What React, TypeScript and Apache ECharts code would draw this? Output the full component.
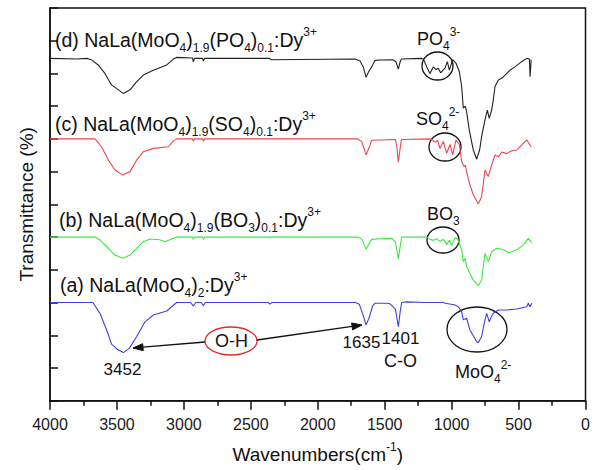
import React, { useEffect, useRef } from "react";
import * as echarts from "echarts";

const FONT = "'Liberation Sans', Arial, Helvetica, sans-serif";

// (a) NaLa(MoO4)2:Dy3+  (blue)
const waveA = [4000, 3680, 3627, 3577, 3539, 3520, 3502, 3452, 3408, 3352, 3290, 3228, 3128, 3091, 3054, 2950, 2930, 2910, 2870, 2855, 2840, 2370, 2357, 2340, 1720, 1690, 1660, 1639, 1615, 1590, 1572, 1480, 1460, 1420, 1398, 1385, 1373, 1336, 1200, 1062, 1049, 980, 950, 925, 913, 888, 863, 813, 801, 776, 751, 738, 719, 700, 689, 651, 589, 514, 439, 427, 414, 402];
const transA = [3.0, 3.0, 2.67, 2.16, 1.72, 1.66, 1.58, 1.47, 1.6, 1.96, 2.41, 2.62, 2.74, 2.87, 3.0, 3.0, 2.9, 3.0, 3.0, 2.9, 3.0, 3.0, 2.95, 3.0, 3.0, 2.95, 2.6, 2.31, 2.55, 2.9, 2.98, 2.98, 2.96, 2.8, 2.26, 2.7, 3.0, 3.02, 3.0, 3.0, 2.98, 2.93, 2.87, 2.72, 2.47, 2.52, 2.16, 1.8, 1.77, 1.96, 2.47, 2.67, 2.41, 2.6, 2.67, 2.77, 2.77, 2.8, 2.87, 2.98, 2.87, 2.98];

// (b) NaLa(MoO4)1.9(BO3)0.1:Dy3+  (green)
const waveB = [4000, 3664, 3627, 3577, 3515, 3457, 3402, 3352, 3303, 3253, 3180, 3141, 3091, 3054, 2935, 2930, 2920, 2860, 2855, 2845, 2360, 2357, 2350, 1700, 1670, 1639, 1610, 1597, 1535, 1448, 1420, 1398, 1385, 1373, 1186, 1162, 1137, 1112, 1087, 1062, 1037, 1017, 999, 975, 955, 925, 913, 900, 888, 863, 838, 801, 776, 751, 726, 701, 664, 614, 576, 551, 514, 464, 427, 402];
const transB = [5.0, 5.0, 4.91, 4.71, 4.45, 4.35, 4.45, 4.66, 4.86, 4.94, 4.92, 4.86, 4.94, 5.0, 5.0, 4.93, 5.0, 5.0, 4.93, 5.0, 5.0, 4.97, 5.0, 5.0, 4.93, 4.63, 4.85, 4.93, 4.95, 4.96, 4.85, 4.33, 4.7, 5.0, 5.0, 4.93, 4.9, 4.95, 4.87, 4.93, 4.77, 4.9, 4.74, 4.98, 4.95, 4.6, 4.25, 4.35, 4.1, 3.89, 3.69, 3.51, 3.69, 4.5, 4.25, 4.55, 4.66, 4.62, 4.52, 4.55, 4.61, 4.76, 4.96, 4.83];

// (c) NaLa(MoO4)1.9(SO4)0.1:Dy3+  (red)
const waveC = [4000, 3664, 3615, 3565, 3515, 3457, 3402, 3352, 3303, 3228, 3116, 3078, 3054, 2935, 2930, 2920, 2860, 2855, 2845, 1700, 1670, 1639, 1610, 1597, 1420, 1410, 1398, 1385, 1375, 1160, 1149, 1124, 1105, 1087, 1062, 1037, 1012, 992, 967, 942, 925, 907, 898, 883, 863, 838, 801, 776, 751, 726, 701, 676, 651, 626, 589, 551, 514, 477, 439, 406];
const transC = [8.0, 8.0, 7.76, 7.36, 7.05, 6.9, 7.0, 7.36, 7.61, 7.71, 7.76, 7.94, 8.0, 8.0, 7.93, 8.0, 8.0, 7.93, 8.0, 8.0, 7.9, 7.51, 7.8, 7.96, 7.98, 7.8, 7.29, 7.7, 7.98, 8.0, 7.98, 7.9, 7.95, 7.71, 7.92, 7.56, 7.83, 7.51, 7.97, 7.82, 7.31, 7.15, 7.2, 6.9, 6.59, 6.29, 6.01, 6.23, 7.05, 6.85, 7.2, 7.51, 7.45, 7.6, 7.55, 7.64, 7.66, 7.81, 7.97, 7.76];

// (d) NaLa(MoO4)1.9(PO4)0.1:Dy3+  (black)
const waveD = [4000, 3800, 3720, 3684, 3640, 3590, 3540, 3453, 3402, 3352, 3303, 3228, 3128, 3078, 3054, 2935, 2930, 2920, 2860, 2855, 2845, 2360, 2350, 1720, 1684, 1660, 1639, 1620, 1597, 1572, 1535, 1437, 1415, 1398, 1385, 1375, 1230, 1211, 1186, 1162, 1137, 1117, 1100, 1082, 1050, 1032, 1017, 992, 967, 942, 925, 913, 898, 888, 868, 850, 838, 813, 791, 776, 751, 733, 719, 701, 689, 676, 651, 626, 601, 564, 527, 477, 439, 419, 414, 406];
const transD = [10.46, 10.44, 10.46, 10.4, 10.26, 10.0, 9.65, 9.39, 9.5, 9.75, 9.95, 10.1, 10.26, 10.44, 10.49, 10.47, 10.36, 10.46, 10.46, 10.38, 10.46, 10.46, 10.42, 10.44, 10.38, 10.2, 9.88, 10.05, 10.2, 10.4, 10.41, 10.42, 10.35, 10.13, 10.35, 10.44, 10.46, 10.44, 10.2, 10.0, 10.2, 10.12, 10.16, 10.02, 10.16, 10.36, 10.1, 10.42, 10.31, 10.05, 9.6, 8.94, 9.0, 8.83, 8.27, 7.9, 7.66, 7.38, 7.66, 8.07, 8.58, 8.88, 8.63, 8.88, 9.19, 9.6, 9.8, 9.85, 9.95, 10.1, 10.2, 10.36, 10.46, 10.44, 9.9, 10.42];

const seriesNames = [
  "(a) NaLa(MoO4)2:Dy3+",
  "(b) NaLa(MoO4)1.9(BO3)0.1:Dy3+",
  "(c) NaLa(MoO4)1.9(SO4)0.1:Dy3+",
  "(d) NaLa(MoO4)1.9(PO4)0.1:Dy3+",
];
const seriesColors = ["#4040dd", "#3fe83f", "#ee4452", "#222222"];

const zip = (w: number[], t: number[]) => w.map((x, i) => [x, t[i]]);

function richLabel(main: number, sub: number, lh: number) {
  return {
    m: { fontSize: main, fontFamily: FONT, fill: "#111", lineHeight: lh, verticalAlign: "middle" },
    s: { fontSize: sub, fontFamily: FONT, fill: "#111", lineHeight: 13, verticalAlign: "bottom" },
    p: { fontSize: sub, fontFamily: FONT, fill: "#111", lineHeight: 14, verticalAlign: "top" },
  };
}

function labelText(x: number, top: number, text: string, main = 19.5, sub = 12, lh = 28) {
  return {
    type: "text",
    x,
    y: top,
    style: { text, rich: richLabel(main, sub, lh), align: "left", verticalAlign: "top" },
  };
}

function plainText(x: number, y: number, text: string, size = 17, color = "#111") {
  return {
    type: "text",
    x,
    y,
    style: { text, fontSize: size, fontFamily: FONT, fill: color, align: "center", verticalAlign: "middle" },
  };
}

function ellipse(cx: number, cy: number, rx: number, ry: number, color = "#111") {
  return {
    type: "ellipse",
    shape: { cx, cy, rx, ry },
    style: { fill: "none", stroke: color, lineWidth: 1.3 },
  };
}

function arrow(x1: number, y1: number, x2: number, y2: number) {
  const dx = x2 - x1;
  const dy = y2 - y1;
  const len = Math.sqrt(dx * dx + dy * dy);
  const ux = dx / len;
  const uy = dy / len;
  const hl = 10;
  const hw = 3.5;
  const bx = x2 - ux * hl;
  const by = y2 - uy * hl;
  return [
    { type: "line", shape: { x1, y1, x2: bx, y2: by }, style: { stroke: "#111", lineWidth: 1.3 } },
    {
      type: "polygon",
      shape: { points: [[x2, y2], [bx - uy * hw, by + ux * hw], [bx + uy * hw, by - ux * hw]] },
      style: { fill: "#111", stroke: "#111" },
    },
  ];
}

export default function App() {
  const ref = useRef<HTMLDivElement>(null);
  useEffect(() => {
    if (!ref.current) return;
    const chart = echarts.init(ref.current, null, { renderer: "svg" });
    const datasets = [zip(waveA, transA), zip(waveB, transB), zip(waveC, transC), zip(waveD, transD)];
    chart.setOption({
      animation: false,
      backgroundColor: "#ffffff",
      grid: { left: 50, right: 9.5, top: 8, bottom: 69.3, show: true, borderColor: "#111", borderWidth: 1.5, containLabel: false },
      xAxis: {
        type: "value",
        inverse: true,
        min: 0,
        max: 4000,
        interval: 500,
        position: "bottom",
        name: "{m|Wavenumbers(cm}{p|-1}{m|)}",
        nameLocation: "middle",
        nameGap: 40,
        nameTextStyle: {
          rich: {
            m: { fontSize: 19, fontFamily: FONT, color: "#111", lineHeight: 28, verticalAlign: "middle" },
            p: { fontSize: 12, fontFamily: FONT, color: "#111", lineHeight: 14, verticalAlign: "top" },
          },
        },
        axisLine: { show: true, onZero: false, lineStyle: { color: "#111", width: 1.5 } },
        axisTick: { show: true, inside: false, length: 9, lineStyle: { color: "#111", width: 1.5 } },
        minorTick: { show: true, splitNumber: 2, length: 5, lineStyle: { color: "#111", width: 1.5 } },
        axisLabel: {
          fontSize: 16,
          fontFamily: FONT,
          color: "#1a1a1a",
          margin: 16,
          formatter: (v: number) => String(v),
        },
        splitLine: { show: false },
        minorSplitLine: { show: false },
      },
      yAxis: {
        type: "value",
        min: 0,
        max: 12,
        interval: 1,
        position: "left",
        name: "Transmittance (%)",
        nameLocation: "middle",
        nameGap: 14,
        nameTextStyle: { fontSize: 19, fontFamily: FONT, color: "#111" },
        axisLine: { show: true, onZero: false, lineStyle: { color: "#111", width: 1.5 } },
        axisTick: { show: true, inside: true, length: 8, lineStyle: { color: "#111", width: 1.5 } },
        axisLabel: { show: false },
        splitLine: { show: false },
      },
      series: datasets.map((d, i) => ({
        type: "line",
        name: seriesNames[i],
        data: d,
        showSymbol: false,
        symbol: "none",
        lineStyle: { color: seriesColors[i], width: 1.1 },
        itemStyle: { color: seriesColors[i] },
        z: 3,
      })),
      graphic: [
        labelText(55, 26.4, "{m|(d) NaLa(MoO}{s|4}{m|)}{s|1.9}{m|(PO}{s|4}{m|)}{s|0.1}{m|:Dy}{p|3+}"),
        labelText(55, 110.4, "{m|(c) NaLa(MoO}{s|4}{m|)}{s|1.9}{m|(SO}{s|4}{m|)}{s|0.1}{m|:Dy}{p|3+}"),
        labelText(59, 206.4, "{m|(b) NaLa(MoO}{s|4}{m|)}{s|1.9}{m|(BO}{s|3}{m|)}{s|0.1}{m|:Dy}{p|3+}"),
        labelText(60, 271.4, "{m|(a) NaLa(MoO}{s|4}{m|)}{s|2}{m|:Dy}{p|3+}"),
        labelText(417, 25.7, "{m|PO}{s|4}{p|3-}", 18, 12, 26),
        labelText(416, 105.7, "{m|SO}{s|4}{p|2-}", 18, 12, 26),
        labelText(427, 200.7, "{m|BO}{s|3}", 18, 12, 26),
        labelText(455, 358.7, "{m|MoO}{s|4}{p|2-}", 18, 12, 26),
        ellipse(437.5, 66, 15.5, 14),
        ellipse(445, 147, 16, 14),
        ellipse(443, 240, 16, 13),
        ellipse(477, 329.5, 30, 22.5),
        ellipse(231, 341, 26, 14, "#e0302c"),
        plainText(231.5, 340.5, "O-H", 18),
        plainText(122.5, 369.5, "3452", 17),
        plainText(361.5, 342.5, "1635", 17),
        plainText(400.5, 338.5, "1401", 17),
        plainText(400.5, 360.5, "C-O", 18),
        ...arrow(205, 342, 133, 348),
        ...arrow(257, 340, 362, 325),
      ],
    });
    return () => chart.dispose();
  }, []);
  return (
    <div
      ref={ref}
      style={{ position: "fixed", left: 0, top: 0, width: 595, height: 470, background: "#fff" }}
    />
  );
}
